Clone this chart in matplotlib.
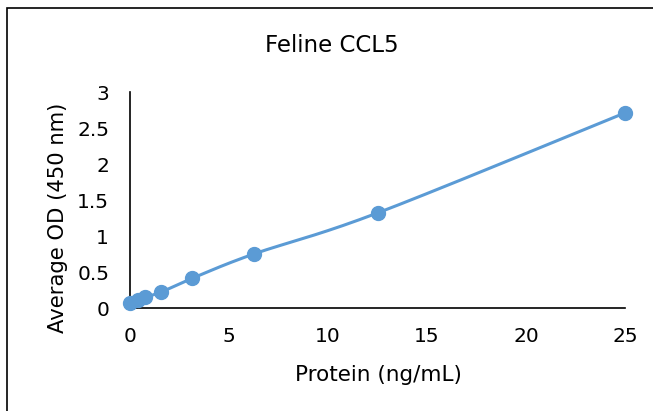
import numpy as np
import matplotlib
matplotlib.use("Agg")
import matplotlib.pyplot as plt
from matplotlib.patches import Rectangle

# data
protein = [0, 0.39, 0.78, 1.56, 3.125, 6.25, 12.5, 25]
avg_od = [0.07, 0.11, 0.15, 0.22, 0.41, 0.75, 1.32, 2.71]
x_ticks = [0, 5, 10, 15, 20, 25]
y_ticks = [0, 0.5, 1, 1.5, 2, 2.5, 3]
y_tick_labels = ["0", "0.5", "1", "1.5", "2", "2.5", "3"]

blue = "#5B9BD5"


def smooth_curve(xs, ys, n=30):
    """Catmull-Rom style smoothing like Excel's smoothed line"""
    xs = np.asarray(xs, float)
    ys = np.asarray(ys, float)
    px = np.concatenate([[xs[0]], xs, [xs[-1]]])
    py = np.concatenate([[ys[0]], ys, [ys[-1]]])
    out_x, out_y = [], []
    t = np.linspace(0, 1, n)
    for i in range(1, len(px) - 2):
        p0x, p1x, p2x, p3x = px[i - 1], px[i], px[i + 1], px[i + 2]
        p0y, p1y, p2y, p3y = py[i - 1], py[i], py[i + 1], py[i + 2]
        c1x = p1x + (p2x - p0x) / 6
        c1y = p1y + (p2y - p0y) / 6
        c2x = p2x - (p3x - p1x) / 6
        c2y = p2y - (p3y - p1y) / 6
        bx = (1 - t) ** 3 * p1x + 3 * (1 - t) ** 2 * t * c1x + 3 * (1 - t) * t ** 2 * c2x + t ** 3 * p2x
        by = (1 - t) ** 3 * p1y + 3 * (1 - t) ** 2 * t * c1y + 3 * (1 - t) * t ** 2 * c2y + t ** 3 * p2y
        out_x.extend(bx)
        out_y.extend(by)
    return out_x, out_y


fig = plt.figure(figsize=(6.53, 4.11), dpi=100)
ax = fig.add_axes([130 / 653, 1 - 308 / 411, (625 - 130) / 653, (308 - 92) / 411])

sx, sy = smooth_curve(protein, avg_od)
ax.plot(sx, sy, color=blue, linewidth=2.2, solid_capstyle="round", zorder=3)
ax.plot(protein, avg_od, "o", color=blue, markersize=10, zorder=4, clip_on=False)

ax.set_xlim(0, 25)
ax.set_ylim(0, 3)
ax.set_xticks(x_ticks)
ax.set_yticks(y_ticks)
ax.set_yticklabels(y_tick_labels)
ax.tick_params(length=0, labelsize=14.5, colors="black")
ax.tick_params(axis="x", pad=14)
ax.tick_params(axis="y", pad=15)

for side in ["top", "right"]:
    ax.spines[side].set_visible(False)
for side in ["left", "bottom"]:
    ax.spines[side].set_color("black")
    ax.spines[side].set_linewidth(1.2)

fig.text(332 / 653, 1 - 45 / 411, "Feline CCL5", ha="center", va="center", fontsize=16.5)
fig.text(378 / 653, 1 - 375 / 411, "Protein (ng/mL)", ha="center", va="center", fontsize=15.5)
fig.text(58 / 653, 1 - 218 / 411, "Average OD (450 nm)", ha="center", va="center",
         fontsize=15.2, rotation=90)

# chart area border (right/bottom edges fall outside the image)
fig.patches.append(Rectangle((6.5 / 653, -0.05), 1.1, 1 - 8.5 / 411 + 0.05,
                             transform=fig.transFigure, fill=False,
                             edgecolor="black", linewidth=1.2))

plt.savefig("out.png", dpi=100)
